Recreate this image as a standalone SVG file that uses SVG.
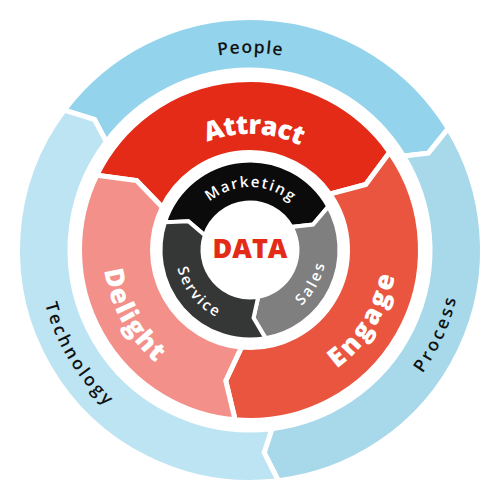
<svg xmlns="http://www.w3.org/2000/svg" width="500" height="500" viewBox="0 0 500 500">
<style>
.seg{stroke:#fff;stroke-width:5;stroke-linejoin:miter}
.seg-in{stroke:#fff;stroke-width:4;stroke-linejoin:miter}
.outer-t{font-family:"Open Sans","Liberation Sans",sans-serif;font-size:17.5px;font-weight:600;fill:#111}
.mid-t{font-family:"Open Sans","Liberation Sans",sans-serif;font-size:26.5px;font-weight:800;fill:#fff}
.in-t{font-family:"Open Sans","Liberation Sans",sans-serif;font-size:15px;font-weight:600;fill:#fff}
.data-t{font-family:"Open Sans","Liberation Sans",sans-serif;font-size:27px;font-weight:800;fill:#E32B17}
</style>
<defs>
<path id="pPeople" d="M 64.88 182.62 A 197 197 0 0 1 435.12 182.62"/>
<path id="pTech" d="M 50.79 177.49 A 212 212 0 0 0 220.50 459.94"/>
<path id="pProcess" d="M 304.87 454.78 A 212 212 0 0 0 440.54 157.07"/>
<path id="pAttract" d="M 141.00 210.33 A 116 116 0 0 1 361.51 218.03"/>
<path id="pEngage" d="M 262.81 396.44 A 147 147 0 0 0 387.24 197.32"/>
<path id="pDelight" d="M 116.77 187.87 A 147 147 0 0 0 232.09 395.90"/>
<path id="pMarketing" d="M 190.80 228.45 A 63 63 0 0 1 309.20 228.45"/>
<path id="pService" d="M 177.56 230.59 A 75 75 0 0 0 252.62 324.95"/>
<path id="pSales" d="M 263.20 324.85 A 76 76 0 0 0 320.76 222.27"/>
</defs>
<rect width="500" height="500" fill="#fff"/>

<g id="people">
<path class="seg" fill="#93D3EB" d="M 64.32 110.08 A 232.5 232.5 0 0 1 448.24 128.52 L 428.40 153.14 L 403.48 155.95 A 180 180 0 0 0 106.24 141.67 L 94.49 119.51 Z"/>
<text class="outer-t"><textPath href="#pPeople" startOffset="50%" text-anchor="middle" textLength="64" lengthAdjust="spacing">People</textPath></text>
</g>
<g id="process">
<path class="seg" fill="#A7D9EA" d="M 448.24 128.52 A 232.5 232.5 0 0 1 278.33 480.77 L 264.16 452.50 L 271.94 428.66 A 180 180 0 0 0 403.48 155.95 L 428.40 153.14 Z"/>
<text class="outer-t"><textPath href="#pProcess" startOffset="50%" text-anchor="middle" textLength="82" lengthAdjust="spacing">Process</textPath></text>
</g>
<g id="technology">
<path class="seg" fill="#BDE4F2" d="M 278.33 480.77 A 232.5 232.5 0 0 1 64.32 110.08 L 94.49 119.51 L 106.24 141.67 A 180 180 0 0 0 271.94 428.66 L 264.16 452.50 Z"/>
<text class="outer-t"><textPath href="#pTech" startOffset="50%" text-anchor="middle" textLength="120" lengthAdjust="spacing">Technology</textPath></text>
</g>

<g id="attract">
<path class="seg" fill="#E32B17" d="M 96.76 175.26 A 170.5 170.5 0 0 1 389.66 152.20 L 365.76 184.51 L 329.87 194.08 A 97.5 97.5 0 0 0 162.37 207.26 L 136.60 180.51 Z"/>
<text class="mid-t"><textPath href="#pAttract" startOffset="50%" text-anchor="middle" textLength="96" lengthAdjust="spacing">Attract</textPath></text>
</g>
<g id="engage">
<path class="seg" fill="#EA553F" d="M 389.66 152.20 A 170.5 170.5 0 0 1 235.14 419.85 L 225.76 380.77 L 241.50 347.13 A 97.5 97.5 0 0 0 329.87 194.08 L 365.76 184.51 Z"/>
<text class="mid-t"><textPath href="#pEngage" startOffset="50%" text-anchor="middle" textLength="112" lengthAdjust="spacing">Engage</textPath></text>
</g>
<g id="delight">
<path class="seg" fill="#F29089" d="M 235.14 419.85 A 170.5 170.5 0 0 1 96.76 175.26 L 136.60 180.51 L 162.37 207.26 A 97.5 97.5 0 0 0 241.50 347.13 L 225.76 380.77 Z"/>
<text class="mid-t"><textPath href="#pDelight" startOffset="50%" text-anchor="middle" textLength="108" lengthAdjust="spacing">Delight</textPath></text>
</g>

<g id="marketing">
<path class="seg-in" fill="#0B0B0B" d="M 164.88 222.34 A 89.5 89.5 0 0 1 328.28 206.61 L 313.05 224.53 L 291.54 226.97 A 47.5 47.5 0 0 0 204.82 235.32 L 188.37 221.26 Z"/>
<text class="in-t"><textPath href="#pMarketing" startOffset="50%" text-anchor="middle" textLength="88" lengthAdjust="spacing">Marketing</textPath></text>
</g>
<g id="sales">
<path class="seg-in" fill="#7F7F7F" d="M 328.28 206.61 A 89.5 89.5 0 0 1 265.54 338.14 L 253.56 317.91 L 258.25 296.78 A 47.5 47.5 0 0 0 291.54 226.97 L 313.05 224.53 Z"/>
<text class="in-t"><textPath href="#pSales" startOffset="50%" text-anchor="middle" textLength="48" lengthAdjust="spacing">Sales</textPath></text>
</g>
<g id="service">
<path class="seg-in" fill="#353636" d="M 265.54 338.14 A 89.5 89.5 0 0 1 164.88 222.34 L 188.37 221.26 L 204.82 235.32 A 47.5 47.5 0 0 0 258.25 296.78 L 253.56 317.91 Z"/>
<text class="in-t"><textPath href="#pService" startOffset="50%" text-anchor="middle" textLength="64" lengthAdjust="spacing">Service</textPath></text>
</g>

<g id="data">
<text class="data-t" x="250" y="258" text-anchor="middle">DATA</text>
</g>
</svg>
